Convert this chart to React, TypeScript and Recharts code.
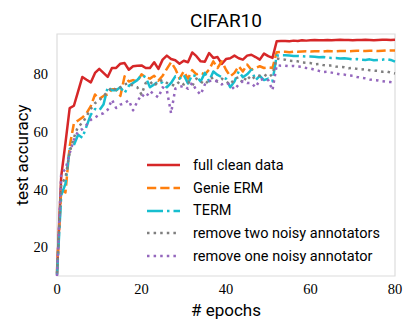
import { LineChart, Line, XAxis, YAxis, Legend, ReferenceArea, Label } from "recharts";

const fullClean = [
  10.5, 44.6, 56.1, 68.3, 69.1, 74.1, 79.1, 78.1, 77.2, 80.5,
  81.9, 80.5, 79.1, 82.2, 82.2, 83.7, 83.9, 81.6, 82.8, 83.0,
  83.1, 82.2, 82.2, 84.2, 81.9, 85.1, 86.5, 85.3, 84.9, 83.7,
  84.7, 84.2, 87.6, 86.3, 84.5, 84.4, 87.4, 85.7, 86.0, 83.6,
  85.3, 85.6, 86.5, 85.6, 85.1, 86.5, 86.8, 86.0, 85.1, 87.2,
  86.3, 85.7, 91.5, 91.6, 91.6, 91.5, 91.7, 91.6, 91.8, 91.7,
  91.8, 91.9, 91.8, 91.8, 91.9, 91.8, 91.9, 92.0, 91.9, 91.9,
  91.8, 91.9, 91.9, 92.0, 91.9, 91.8, 91.9, 92.0, 92.0, 91.9,
  92.0,
];

const genieErm = [
  12, 40, 39, 55, 63, 64, 65, 66.5, 69, 73,
  71.5, 72.5, 73, 74.8, 74.8, 72.5, 79.3, 77.5, 78, 77.5,
  80, 79, 78.5, 79.5, 77.8, 79.5, 81.9, 84.2, 81.9, 78.5,
  81, 78.5, 81.5, 80, 80.5, 80, 81.6, 84.5, 82.2, 84.5,
  81.6, 79.3, 80.5, 82.8, 81, 83.4, 81.6, 82.2, 82.8, 82.2,
  82.4, 82.2, 87.7, 87.8, 87.8, 87.7, 87.9, 87.8, 87.9, 88.0,
  87.9, 88.0, 88.0, 87.9, 88.1, 88.0, 88.0, 88.1, 88.1, 88.0,
  88.1, 88.2, 88.1, 88.1, 88.2, 88.2, 88.1, 88.2, 88.3, 88.3,
  88.3,
];

const term = [
  10.5, 38, 42, 54, 55.5, 59, 58, 62, 66, 68,
  67.5, 69.5, 75.5, 74.5, 74.5, 75.5, 73.5, 76, 77, 78,
  79.8, 79, 75.5, 76.5, 77.6, 77, 75.5, 77, 79.3, 78.5,
  79.8, 76.8, 79.8, 79.3, 77.5, 80.5, 77.6, 81, 79.8, 79,
  78.5, 75.5, 77.5, 81, 79, 80, 81.6, 78, 79.5, 78,
  78.5, 77.6, 86.5, 86.6, 86.6, 86.5, 86.4, 86.4, 86.3, 86.2,
  86.2, 86.1, 85.9, 86.0, 85.8, 85.7, 85.7, 85.5, 85.6, 85.4,
  85.2, 85.3, 85.1, 85.0, 85.2, 84.9, 85.0, 85.1, 85.3, 85.0,
  84.4,
];

const removeTwo = [
  11, 42, 44, 53, 58, 62, 63, 65.5, 68, 70,
  71, 72.5, 74, 75.5, 74.5, 75.5, 76.5, 77, 76, 75.5,
  73, 77, 77.5, 76, 77.5, 78, 77, 76.5, 76, 77.5,
  76.5, 77.5, 76, 78.5, 77.5, 76.5, 78, 79, 77.5, 78.5,
  77.5, 76.5, 78.5, 79, 77, 79.5, 78, 79.5, 79.5, 80,
  79, 80, 85.5, 85.2, 85.1, 84.7, 84.6, 84.5, 84.1, 84.0,
  83.9, 83.5, 83.6, 83.2, 83.0, 83.1, 82.7, 82.6, 82.5, 82.1,
  82.2, 81.9, 81.7, 81.8, 81.4, 81.3, 81.2, 80.9, 81.0, 80.6,
  80.3,
];

const removeOne = [
  10, 45.7, 47, 52.6, 57.3, 60.2, 61, 62.5, 64.2, 65,
  66, 66.5, 67.7, 71.2, 68.3, 69.5, 70, 71, 67.5, 70.5,
  73, 72, 74.2, 73, 72, 75.5, 74.5, 66.5, 75, 75.6,
  76, 75, 77, 74.5, 73, 76.5, 77.6, 78, 77.5, 76.5,
  77, 76.5, 74.7, 76.5, 77.6, 77, 77, 75.5, 78, 78.5,
  78, 74.5, 83.2, 83.0, 83.0, 82.8, 82.9, 82.7, 82.6, 82.2,
  82.0, 81.6, 81.2, 80.8, 80.9, 80.6, 80.3, 80.0, 79.9, 79.6,
  79.5, 79.1, 78.8, 78.6, 78.2, 78.0, 77.9, 77.6, 77.4, 77.3,
  77.0,
];

const xTicks = [0, 20, 40, 60, 80];
const yTicks = [20, 40, 60, 80];

const series = [
  { key: "fullClean", name: "full clean data", color: "#d62728", dash: undefined },
  { key: "genieErm", name: "Genie ERM", color: "#ff7f0e", dash: "9.25 4" },
  { key: "term", name: "TERM", color: "#17becf", dash: "16 4 2.5 4" },
  { key: "removeTwo", name: "remove two noisy annotators", color: "#7f7f7f", dash: "2.5 4.1" },
  { key: "removeOne", name: "remove one noisy annotator", color: "#9467bd", dash: "2.5 4.1" },
];

const data = fullClean.map((v, i) => ({
  epoch: i,
  fullClean: v,
  genieErm: genieErm[i],
  term: term[i],
  removeTwo: removeTwo[i],
  removeOne: removeOne[i],
}));

const sans = "Roboto, sans-serif";
const serif = "Liberation Serif";

// tick labels in a serif face, like the LaTeX numbers in the original
const XTick = ({ x, y, payload }: any) => (
  <text x={x} y={y + 10} textAnchor="middle" fontFamily={serif} fontSize={14.5} fill="#000">
    {payload.value}
  </text>
);

const YTick = ({ x, y, payload }: any) => (
  <text x={x} y={y + 5} textAnchor="end" fontFamily={serif} fontSize={14.5} fill="#000">
    {payload.value}
  </text>
);

function LegendBox() {
  return (
    <div style={{ fontFamily: sans, fontSize: 14.5, color: "#000" }}>
      {series.map((s) => (
        <div key={s.key} style={{ display: "flex", alignItems: "center", height: 22.7 }}>
          <svg width={34} height={8}>
            <line x1={0} y1={4} x2={33} y2={4} stroke={s.color} strokeWidth={2.5} strokeDasharray={s.dash} />
          </svg>
          <span style={{ marginLeft: 12, whiteSpace: "nowrap" }}>{s.name}</span>
        </div>
      ))}
    </div>
  );
}

export default function App() {
  return (
    <div style={{ position: "absolute", left: 0, top: 0, width: 415, height: 332, background: "#fff" }}>
      <div
        style={{
          position: "absolute",
          left: 57,
          width: 338,
          top: 11,
          textAlign: "center",
          fontFamily: sans,
          fontSize: 19,
          lineHeight: "19px",
          color: "#000",
        }}
      >
        CIFAR10
      </div>
      <LineChart width={415} height={332} data={data} margin={{ top: 34, right: 20, bottom: 26, left: 0 }}>
        <ReferenceArea x1={0} x2={80} y1={10} y2={94} fill="none" stroke="#dcdcdc" strokeWidth={1.2} ifOverflow="visible" />
        <XAxis
          type="number"
          dataKey="epoch"
          domain={[0, 80]}
          ticks={xTicks}
          axisLine={false}
          tickLine={false}
          tick={<XTick />}
        >
          <Label
            content={() => (
              <text x={226} y={310} textAnchor="middle" dominantBaseline="central" fontFamily={sans} fontSize={17} fill="#000">
                # epochs
              </text>
            )}
          />
        </XAxis>
        <YAxis
          type="number"
          domain={[10, 94]}
          ticks={yTicks}
          width={57}
          axisLine={false}
          tickLine={false}
          tickMargin={3}
          tick={<YTick />}
        >
          <Label
            content={() => (
              <text
                x={21.7}
                y={155}
                transform="rotate(-90, 21.7, 155)"
                textAnchor="middle"
                dominantBaseline="central"
                fontFamily={sans}
                fontSize={17}
                fill="#000"
              >
                test accuracy
              </text>
            )}
          />
        </YAxis>
        {series.map((s) => (
          <Line
            key={s.key}
            type="linear"
            dataKey={s.key}
            name={s.name}
            stroke={s.color}
            strokeWidth={2.5}
            strokeDasharray={s.dash}
            strokeLinejoin="round"
            dot={false}
            activeDot={false}
            isAnimationActive={false}
          />
        ))}
        <Legend
          layout="horizontal"
          verticalAlign="middle"
          align="center"
          wrapperStyle={{ left: 147, top: 154, width: "auto" }}
          content={() => <LegendBox />}
        />
      </LineChart>
    </div>
  );
}
